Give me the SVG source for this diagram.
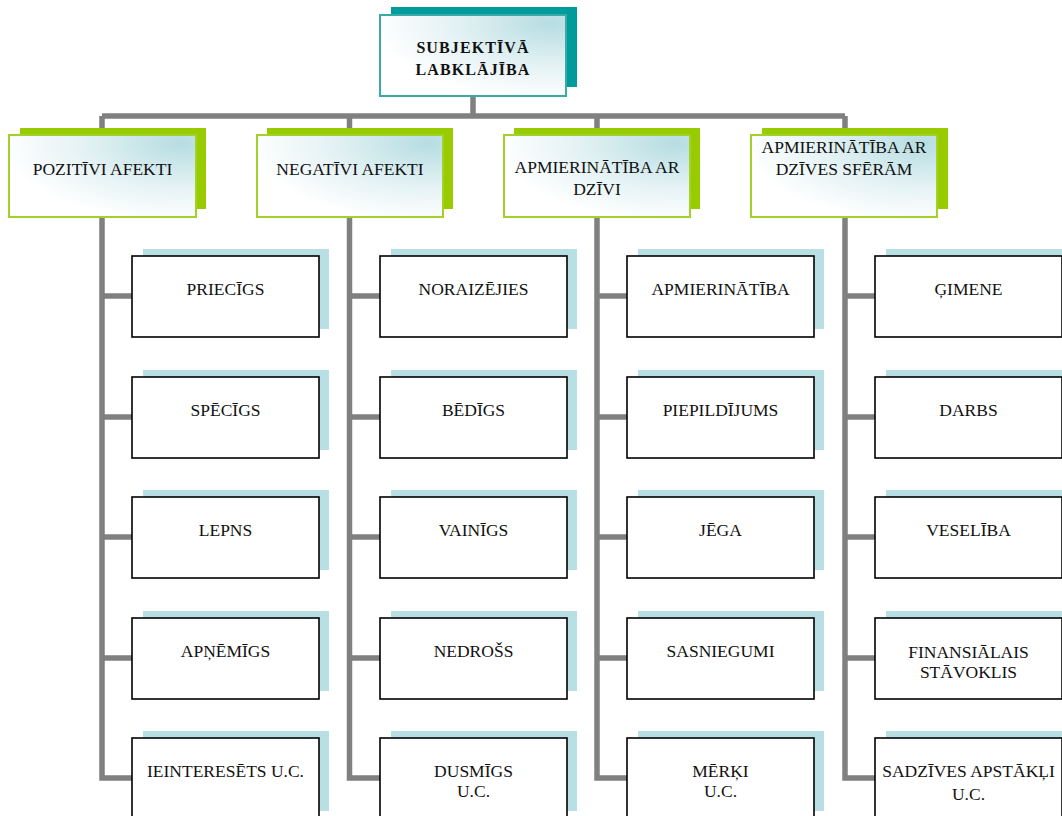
<svg xmlns="http://www.w3.org/2000/svg" width="1062" height="816" viewBox="0 0 1062 816">
<defs>
<radialGradient id="gr" cx="0.92" cy="0.1" r="0.95" fx="0.92" fy="0.1">
<stop offset="0" stop-color="#b6dde2"/>
<stop offset="0.55" stop-color="#e4f2f4"/>
<stop offset="1" stop-color="#ffffff"/>
</radialGradient>
<style>
.ln{stroke:#808080;stroke-width:5.5;fill:none;stroke-linejoin:miter}
.tsh{fill:#009b9b}
.tmn{fill:url(#gr);stroke:#3aa9a9;stroke-width:2}
.gsh{fill:#99cc00}
.gmn{fill:url(#gr);stroke:#a2d12a;stroke-width:2}
.bsh{fill:#b8dfe3}
.bmn{fill:#ffffff;stroke:#000000;stroke-width:1.6}
text{font-family:"Liberation Serif","Times New Roman",serif;font-size:17.5px;fill:#111;text-anchor:middle}
.tb{font-weight:bold;font-size:16px;letter-spacing:1.1px}
</style>
</defs>
<rect width="1062" height="816" fill="#ffffff"/>
<g id="connectors">
<path class="ln" d="M473,96 V116"/>
<path class="ln" d="M102,116 H845"/>
<path class="ln" d="M102,116 V778 H132 M102,296 H132 M102,417 H132 M102,537 H132 M102,658 H132"/>
<path class="ln" d="M349.5,116 V778 H380 M349.5,296 H380 M349.5,417 H380 M349.5,537 H380 M349.5,658 H380"/>
<path class="ln" d="M597,116 V778 H627 M597,296 H627 M597,417 H627 M597,537 H627 M597,658 H627"/>
<path class="ln" d="M845,116 V778 H875 M845,296 H875 M845,417 H875 M845,537 H875 M845,658 H875"/>
</g>
<g id="root">
<rect class="tsh" x="391" y="7" width="186" height="80"/>
<rect class="tmn" x="380" y="15" width="186" height="81"/>
<text class="tb" x="473" y="53">SUBJEKTĪVĀ</text>
<text class="tb" x="473" y="75">LABKLĀJĪBA</text>
</g>
<g id="pozitivi">
<rect class="gsh" x="20" y="128" width="186" height="81"/>
<rect class="gmn" x="9" y="135" width="187" height="82"/>
<text x="102.5" y="175">POZITĪVI AFEKTI</text>
</g>
<g id="negativi">
<rect class="gsh" x="267" y="128" width="186" height="81"/>
<rect class="gmn" x="257" y="135" width="186" height="82"/>
<text x="350" y="175">NEGATĪVI AFEKTI</text>
</g>
<g id="apmier-dzivi">
<rect class="gsh" x="514" y="128" width="186" height="81"/>
<rect class="gmn" x="504" y="135" width="186" height="82"/>
<text x="597" y="173">APMIERINĀTĪBA AR</text>
<text x="597" y="195">DZĪVI</text>
</g>
<g id="apmier-sferam">
<rect class="gsh" x="762" y="128" width="186" height="81"/>
<rect class="gmn" x="751" y="135" width="186" height="82"/>
<text x="844" y="153">APMIERINĀTĪBA AR</text>
<text x="844" y="175">DZĪVES SFĒRĀM</text>
</g>
<g id="c1r1"><rect class="bsh" x="143" y="249" width="186" height="80"/><rect class="bmn" x="132" y="256" width="187" height="81"/><text x="225.5" y="295">PRIECĪGS</text></g>
<g id="c1r2"><rect class="bsh" x="143" y="370" width="186" height="80"/><rect class="bmn" x="132" y="377" width="187" height="81"/><text x="225.5" y="416">SPĒCĪGS</text></g>
<g id="c1r3"><rect class="bsh" x="143" y="490" width="186" height="80"/><rect class="bmn" x="132" y="497" width="187" height="81"/><text x="225.5" y="536">LEPNS</text></g>
<g id="c1r4"><rect class="bsh" x="143" y="611" width="186" height="80"/><rect class="bmn" x="132" y="618" width="187" height="81"/><text x="225.5" y="657">APŅĒMĪGS</text></g>
<g id="c1r5"><rect class="bsh" x="143" y="731" width="186" height="80"/><rect class="bmn" x="132" y="738" width="187" height="81"/><text x="225.5" y="777">IEINTERESĒTS U.C.</text></g>
<g id="c2r1"><rect class="bsh" x="391" y="249" width="186" height="80"/><rect class="bmn" x="380" y="256" width="187" height="81"/><text x="473.5" y="295">NORAIZĒJIES</text></g>
<g id="c2r2"><rect class="bsh" x="391" y="370" width="186" height="80"/><rect class="bmn" x="380" y="377" width="187" height="81"/><text x="473.5" y="416">BĒDĪGS</text></g>
<g id="c2r3"><rect class="bsh" x="391" y="490" width="186" height="80"/><rect class="bmn" x="380" y="497" width="187" height="81"/><text x="473.5" y="536">VAINĪGS</text></g>
<g id="c2r4"><rect class="bsh" x="391" y="611" width="186" height="80"/><rect class="bmn" x="380" y="618" width="187" height="81"/><text x="473.5" y="657">NEDROŠS</text></g>
<g id="c2r5"><rect class="bsh" x="391" y="731" width="186" height="80"/><rect class="bmn" x="380" y="738" width="187" height="81"/><text x="473.5" y="777">DUSMĪGS</text><text x="473.5" y="797">U.C.</text></g>
<g id="c3r1"><rect class="bsh" x="638" y="249" width="186" height="80"/><rect class="bmn" x="627" y="256" width="187" height="81"/><text x="720.5" y="295">APMIERINĀTĪBA</text></g>
<g id="c3r2"><rect class="bsh" x="638" y="370" width="186" height="80"/><rect class="bmn" x="627" y="377" width="187" height="81"/><text x="720.5" y="416">PIEPILDĪJUMS</text></g>
<g id="c3r3"><rect class="bsh" x="638" y="490" width="186" height="80"/><rect class="bmn" x="627" y="497" width="187" height="81"/><text x="720.5" y="536">JĒGA</text></g>
<g id="c3r4"><rect class="bsh" x="638" y="611" width="186" height="80"/><rect class="bmn" x="627" y="618" width="187" height="81"/><text x="720.5" y="657">SASNIEGUMI</text></g>
<g id="c3r5"><rect class="bsh" x="638" y="731" width="186" height="80"/><rect class="bmn" x="627" y="738" width="187" height="81"/><text x="720.5" y="777">MĒRĶI</text><text x="720.5" y="797">U.C.</text></g>
<g id="c4r1"><rect class="bsh" x="886" y="249" width="186" height="80"/><rect class="bmn" x="875" y="256" width="187" height="81"/><text x="968.5" y="295">ĢIMENE</text></g>
<g id="c4r2"><rect class="bsh" x="886" y="370" width="186" height="80"/><rect class="bmn" x="875" y="377" width="187" height="81"/><text x="968.5" y="416">DARBS</text></g>
<g id="c4r3"><rect class="bsh" x="886" y="490" width="186" height="80"/><rect class="bmn" x="875" y="497" width="187" height="81"/><text x="968.5" y="536">VESELĪBA</text></g>
<g id="c4r4"><rect class="bsh" x="886" y="611" width="186" height="80"/><rect class="bmn" x="875" y="618" width="187" height="81"/><text x="968.5" y="658">FINANSIĀLAIS</text><text x="968.5" y="678">STĀVOKLIS</text></g>
<g id="c4r5"><rect class="bsh" x="886" y="731" width="186" height="80"/><rect class="bmn" x="875" y="738" width="187" height="81"/><text x="968.5" y="777">SADZĪVES APSTĀKĻI</text><text x="968.5" y="800">U.C.</text></g>
</svg>
